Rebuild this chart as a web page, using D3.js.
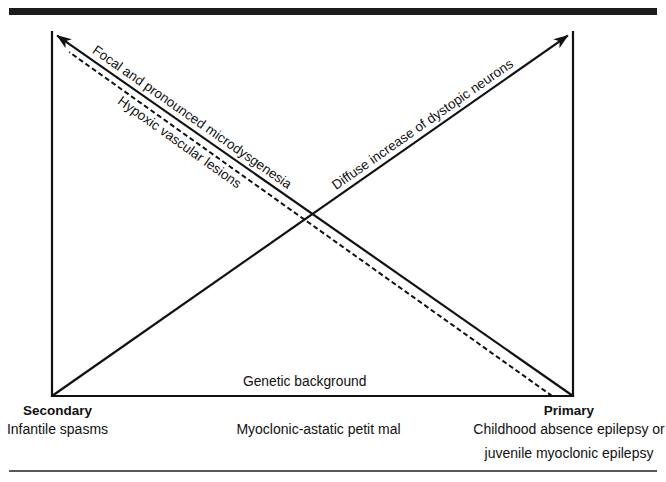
<!DOCTYPE html>
<html>
<head>
<meta charset="utf-8">
<script src="https://cdn.jsdelivr.net/npm/d3@7"></script>
<style>
  body { margin: 0; background: #fff; }
  svg text { font-family: "Liberation Sans", Arial, Helvetica, sans-serif; fill: #111; }
</style>
</head>
<body>
<div id="chart"></div>
<script>
// conceptual coordinates: x = secondary (0) -> primary (1), y = 0 (base) -> 1 (top)
var frameLines = [
    { id: 'left', from: [0, 0], to: [0, 1] },
    { id: 'right', from: [1, 0], to: [1, 1] },
    { id: 'base', from: [0, 0], to: [1, 0] }
];

var trendLines = [
    { id: 'diffuse', from: [0, 0], to: [0.99, 0.99], dashed: false, arrow: true },
    { id: 'focal', from: [1, 0], to: [0.01, 0.99], dashed: false, arrow: true },
    { id: 'hypoxic', from: [0.96, 0], to: [0.033, 0.945], dashed: true, arrow: false }
];

// label text, which line it rides, where along it (0..1) and which side
var lineLabels = [
    { text: 'Diffuse increase of dystopic neurons', line: 'diffuse', at: 0.73, side: -1 },
    { text: 'Focal and pronounced microdysgenesia', line: 'focal', at: 0.75, side: -1 },
    { text: 'Hypoxic vascular lesions', line: 'hypoxic', at: 0.76, side: 1 }
];

var baseLabel = 'Genetic background';

var poleLabels = [
    { x: 0, lines: ['Secondary', 'Infantile spasms'] },
    { x: 0.5, lines: ['', 'Myoclonic-astatic petit mal'] },
    { x: 1, lines: ['Primary', 'Childhood absence epilepsy or', 'juvenile myoclonic epilepsy'] }
];

var width = 666, height = 482;

var svg = d3.select('#chart').append('svg')
    .attr('width', width)
    .attr('height', height);

var x = d3.scaleLinear().domain([0, 1]).range([52, 573]);
var y = d3.scaleLinear().domain([0, 1]).range([396, 32]);

// page rules
svg.append('rect')
    .attr('x', 9).attr('y', 8)
    .attr('width', 648).attr('height', 7)
    .attr('fill', '#1c1c1c');
svg.append('line')
    .attr('x1', 9).attr('x2', 657)
    .attr('y1', 471).attr('y2', 471)
    .attr('stroke', '#222').attr('stroke-width', 1.6);

svg.append('defs').append('marker')
    .attr('id', 'arrow')
    .attr('viewBox', '-14 -6 16 12')
    .attr('refX', 0).attr('refY', 0)
    .attr('markerWidth', 16).attr('markerHeight', 12)
    .attr('markerUnits', 'userSpaceOnUse')
    .attr('orient', 'auto')
    .append('path')
    .attr('d', 'M1,0 L-14,-5.5 L-10,0 L-14,5.5 Z')
    .attr('fill', '#111');

svg.append('g').attr('class', 'frame')
    .selectAll('line')
    .data(frameLines)
    .enter().append('line')
    .attr('x1', d => x(d.from[0])).attr('y1', d => y(d.from[1]))
    .attr('x2', d => x(d.to[0])).attr('y2', d => y(d.to[1]))
    .attr('stroke', '#111')
    .attr('stroke-width', 2.2)
    .attr('stroke-linecap', 'square');

svg.append('g').attr('class', 'trends')
    .selectAll('line')
    .data(trendLines)
    .enter().append('line')
    .attr('x1', d => x(d.from[0])).attr('y1', d => y(d.from[1]))
    .attr('x2', d => x(d.to[0])).attr('y2', d => y(d.to[1]))
    .attr('stroke', '#111')
    .attr('stroke-width', d => d.dashed ? 2 : 2.2)
    .attr('stroke-dasharray', d => d.dashed ? '5,3' : null)
    .attr('marker-end', d => d.arrow ? 'url(#arrow)' : null);

var lineById = new Map(trendLines.map(d => [d.id, d]));

svg.append('g').attr('class', 'line-labels')
    .selectAll('text')
    .data(lineLabels)
    .enter().append('text')
    .attr('transform', d => {
        var l = lineById.get(d.line);
        var x0 = x(l.from[0]), y0 = y(l.from[1]);
        var x1 = x(l.to[0]), y1 = y(l.to[1]);
        var px = x0 + (x1 - x0) * d.at, py = y0 + (y1 - y0) * d.at;
        var ang = Math.atan2(y1 - y0, x1 - x0) * 180 / Math.PI;
        if (ang > 90 || ang < -90) ang += 180;
        return 'translate(' + px + ',' + py + ') rotate(' + ang + ')';
    })
    .attr('text-anchor', 'middle')
    .attr('dy', d => d.side < 0 ? -6 : 14)
    .attr('font-size', 13.5)
    .text(d => d.text);

svg.append('text')
    .attr('x', x(0.485)).attr('y', y(0) - 10)
    .attr('text-anchor', 'middle')
    .attr('font-size', 13.8)
    .text(baseLabel);

// captions sit under each pole, nudged a little like the original
var poleShift = [5.5, 6, -4];

var poles = svg.append('g').attr('class', 'poles')
    .selectAll('text')
    .data(poleLabels)
    .enter().append('text')
    .attr('y', y(0) + 19)
    .attr('text-anchor', 'middle')
    .attr('font-size', 14);

poles.selectAll('tspan')
    .data((d, k) => d.lines.map((t, i) => ({ t: t, i: i, px: x(d.x) + poleShift[k] })))
    .enter().append('tspan')
    .attr('x', d => d.px)
    .attr('dy', d => d.i === 0 ? 0 : (d.i === 1 ? 19 : 24))
    .attr('font-weight', d => d.i === 0 ? 'bold' : null)
    .attr('font-size', d => d.i === 0 ? 13.5 : null)
    .text(d => d.t);
</script>
</body>
</html>
